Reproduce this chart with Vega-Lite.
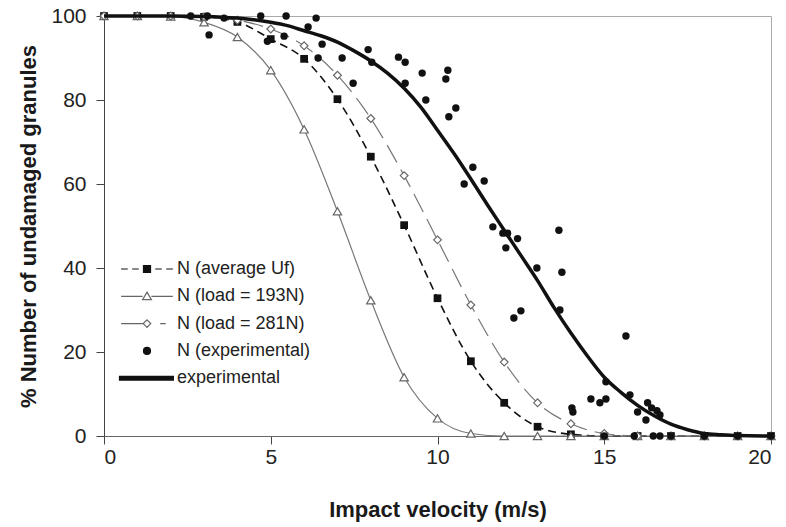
{
  "$schema": "https://vega.github.io/schema/vega-lite/v6.json",
  "autosize": {"type": "none"},
  "width": 667,
  "height": 420,
  "padding": {"left": 104, "top": 16, "right": 15, "bottom": 91},
  "background": "white",
  "config": {
    "font": "Liberation Sans",
    "view": {"stroke": "#aaaaaa", "strokeWidth": 1},
    "axis": {
      "grid": false,
      "labelFont": "Liberation Sans",
      "labelFontSize": 21,
      "labelColor": "#222222",
      "titleFont": "Liberation Sans",
      "titleFontSize": 22,
      "titleFontWeight": "bold",
      "titleColor": "#1a1a1a",
      "domainColor": "#444444",
      "tickColor": "#444444",
      "tickSize": 8
    }
  },
  "data": {"values": [
    {"series": "N (average Uf)", "velocity": 0, "pct": 100},
    {"series": "N (average Uf)", "velocity": 1, "pct": 100},
    {"series": "N (average Uf)", "velocity": 2, "pct": 100},
    {"series": "N (average Uf)", "velocity": 3, "pct": 99.8},
    {"series": "N (average Uf)", "velocity": 4, "pct": 98.6},
    {"series": "N (average Uf)", "velocity": 5, "pct": 94.5},
    {"series": "N (average Uf)", "velocity": 6, "pct": 89.8},
    {"series": "N (average Uf)", "velocity": 7, "pct": 80.2},
    {"series": "N (average Uf)", "velocity": 8, "pct": 66.5},
    {"series": "N (average Uf)", "velocity": 9, "pct": 50.2},
    {"series": "N (average Uf)", "velocity": 10, "pct": 32.8},
    {"series": "N (average Uf)", "velocity": 11, "pct": 17.8},
    {"series": "N (average Uf)", "velocity": 12, "pct": 7.9},
    {"series": "N (average Uf)", "velocity": 13, "pct": 2.2},
    {"series": "N (average Uf)", "velocity": 14, "pct": 0.4},
    {"series": "N (average Uf)", "velocity": 15, "pct": 0},
    {"series": "N (average Uf)", "velocity": 16, "pct": 0},
    {"series": "N (average Uf)", "velocity": 17, "pct": 0},
    {"series": "N (average Uf)", "velocity": 18, "pct": 0},
    {"series": "N (average Uf)", "velocity": 19, "pct": 0},
    {"series": "N (average Uf)", "velocity": 20, "pct": 0},
    {"series": "N (load = 193N)", "velocity": 0, "pct": 100},
    {"series": "N (load = 193N)", "velocity": 1, "pct": 100},
    {"series": "N (load = 193N)", "velocity": 2, "pct": 99.9},
    {"series": "N (load = 193N)", "velocity": 3, "pct": 98.5},
    {"series": "N (load = 193N)", "velocity": 4, "pct": 95},
    {"series": "N (load = 193N)", "velocity": 5, "pct": 87.1},
    {"series": "N (load = 193N)", "velocity": 6, "pct": 73},
    {"series": "N (load = 193N)", "velocity": 7, "pct": 53.5},
    {"series": "N (load = 193N)", "velocity": 8, "pct": 32.3},
    {"series": "N (load = 193N)", "velocity": 9, "pct": 14},
    {"series": "N (load = 193N)", "velocity": 10, "pct": 4.2},
    {"series": "N (load = 193N)", "velocity": 11, "pct": 0.6},
    {"series": "N (load = 193N)", "velocity": 12, "pct": 0},
    {"series": "N (load = 193N)", "velocity": 13, "pct": 0},
    {"series": "N (load = 193N)", "velocity": 14, "pct": 0},
    {"series": "N (load = 193N)", "velocity": 15, "pct": 0},
    {"series": "N (load = 193N)", "velocity": 16, "pct": 0},
    {"series": "N (load = 193N)", "velocity": 17, "pct": 0},
    {"series": "N (load = 193N)", "velocity": 18, "pct": 0},
    {"series": "N (load = 193N)", "velocity": 19, "pct": 0},
    {"series": "N (load = 193N)", "velocity": 20, "pct": 0},
    {"series": "N (load = 281N)", "velocity": 0, "pct": 100},
    {"series": "N (load = 281N)", "velocity": 1, "pct": 100},
    {"series": "N (load = 281N)", "velocity": 2, "pct": 100},
    {"series": "N (load = 281N)", "velocity": 3, "pct": 99.8},
    {"series": "N (load = 281N)", "velocity": 4, "pct": 99},
    {"series": "N (load = 281N)", "velocity": 5, "pct": 96.9},
    {"series": "N (load = 281N)", "velocity": 6, "pct": 92.9},
    {"series": "N (load = 281N)", "velocity": 7, "pct": 85.9},
    {"series": "N (load = 281N)", "velocity": 8, "pct": 75.6},
    {"series": "N (load = 281N)", "velocity": 9, "pct": 62},
    {"series": "N (load = 281N)", "velocity": 10, "pct": 46.7},
    {"series": "N (load = 281N)", "velocity": 11, "pct": 31.2},
    {"series": "N (load = 281N)", "velocity": 12, "pct": 17.6},
    {"series": "N (load = 281N)", "velocity": 13, "pct": 7.9},
    {"series": "N (load = 281N)", "velocity": 14, "pct": 2.9},
    {"series": "N (load = 281N)", "velocity": 15, "pct": 0.6},
    {"series": "N (load = 281N)", "velocity": 16, "pct": 0},
    {"series": "N (load = 281N)", "velocity": 17, "pct": 0},
    {"series": "N (load = 281N)", "velocity": 18, "pct": 0},
    {"series": "N (load = 281N)", "velocity": 19, "pct": 0},
    {"series": "N (load = 281N)", "velocity": 20, "pct": 0},
    {"series": "N (experimental)", "velocity": 2.6, "pct": 100},
    {"series": "N (experimental)", "velocity": 3.1, "pct": 100},
    {"series": "N (experimental)", "velocity": 3.15, "pct": 95.5},
    {"series": "N (experimental)", "velocity": 3.6, "pct": 99.5},
    {"series": "N (experimental)", "velocity": 4.7, "pct": 100},
    {"series": "N (experimental)", "velocity": 4.9, "pct": 94},
    {"series": "N (experimental)", "velocity": 5.4, "pct": 95.2},
    {"series": "N (experimental)", "velocity": 5.46, "pct": 100},
    {"series": "N (experimental)", "velocity": 6.12, "pct": 97.4},
    {"series": "N (experimental)", "velocity": 6.36, "pct": 99.5},
    {"series": "N (experimental)", "velocity": 6.54, "pct": 93.3},
    {"series": "N (experimental)", "velocity": 6.42, "pct": 90},
    {"series": "N (experimental)", "velocity": 7.14, "pct": 90},
    {"series": "N (experimental)", "velocity": 7.47, "pct": 84},
    {"series": "N (experimental)", "velocity": 7.92, "pct": 92},
    {"series": "N (experimental)", "velocity": 8.03, "pct": 89},
    {"series": "N (experimental)", "velocity": 8.83, "pct": 90.2},
    {"series": "N (experimental)", "velocity": 9.03, "pct": 89},
    {"series": "N (experimental)", "velocity": 9.03, "pct": 84},
    {"series": "N (experimental)", "velocity": 9.54, "pct": 86.4},
    {"series": "N (experimental)", "velocity": 10.31, "pct": 87.1},
    {"series": "N (experimental)", "velocity": 10.25, "pct": 85},
    {"series": "N (experimental)", "velocity": 9.65, "pct": 80},
    {"series": "N (experimental)", "velocity": 10.55, "pct": 78.1},
    {"series": "N (experimental)", "velocity": 10.34, "pct": 76},
    {"series": "N (experimental)", "velocity": 11.06, "pct": 64},
    {"series": "N (experimental)", "velocity": 10.8, "pct": 60},
    {"series": "N (experimental)", "velocity": 11.4, "pct": 60.7},
    {"series": "N (experimental)", "velocity": 11.66, "pct": 49.8},
    {"series": "N (experimental)", "velocity": 11.96, "pct": 48.3},
    {"series": "N (experimental)", "velocity": 12.1, "pct": 48.3},
    {"series": "N (experimental)", "velocity": 12.4, "pct": 47},
    {"series": "N (experimental)", "velocity": 12.05, "pct": 44.8},
    {"series": "N (experimental)", "velocity": 13.64, "pct": 49},
    {"series": "N (experimental)", "velocity": 12.98, "pct": 40},
    {"series": "N (experimental)", "velocity": 13.73, "pct": 39},
    {"series": "N (experimental)", "velocity": 12.29, "pct": 28.1},
    {"series": "N (experimental)", "velocity": 12.5, "pct": 29.8},
    {"series": "N (experimental)", "velocity": 13.67, "pct": 30},
    {"series": "N (experimental)", "velocity": 15.65, "pct": 23.8},
    {"series": "N (experimental)", "velocity": 14.6, "pct": 8.8},
    {"series": "N (experimental)", "velocity": 14.87, "pct": 7.9},
    {"series": "N (experimental)", "velocity": 15.05, "pct": 8.8},
    {"series": "N (experimental)", "velocity": 14.03, "pct": 6.7},
    {"series": "N (experimental)", "velocity": 14.06, "pct": 5.7},
    {"series": "N (experimental)", "velocity": 15.05, "pct": 12.9},
    {"series": "N (experimental)", "velocity": 15.77, "pct": 9.8},
    {"series": "N (experimental)", "velocity": 16.3, "pct": 7.9},
    {"series": "N (experimental)", "velocity": 16.0, "pct": 5.7},
    {"series": "N (experimental)", "velocity": 16.25, "pct": 3.8},
    {"series": "N (experimental)", "velocity": 16.58, "pct": 6},
    {"series": "N (experimental)", "velocity": 16.67, "pct": 5},
    {"series": "N (experimental)", "velocity": 16.42, "pct": 6.7},
    {"series": "N (experimental)", "velocity": 15, "pct": 0},
    {"series": "N (experimental)", "velocity": 15.9, "pct": 0},
    {"series": "N (experimental)", "velocity": 16.47, "pct": 0},
    {"series": "N (experimental)", "velocity": 16.67, "pct": 0},
    {"series": "N (experimental)", "velocity": 17, "pct": 0},
    {"series": "N (experimental)", "velocity": 18, "pct": 0},
    {"series": "N (experimental)", "velocity": 19, "pct": 0},
    {"series": "N (experimental)", "velocity": 20, "pct": 0},
    {"series": "experimental", "velocity": 0, "pct": 100},
    {"series": "experimental", "velocity": 2, "pct": 100},
    {"series": "experimental", "velocity": 3, "pct": 99.9},
    {"series": "experimental", "velocity": 4, "pct": 99.5},
    {"series": "experimental", "velocity": 5, "pct": 98.5},
    {"series": "experimental", "velocity": 5.5, "pct": 97.7},
    {"series": "experimental", "velocity": 6, "pct": 96.5},
    {"series": "experimental", "velocity": 6.5, "pct": 95.3},
    {"series": "experimental", "velocity": 7, "pct": 93.8},
    {"series": "experimental", "velocity": 7.5, "pct": 91.7},
    {"series": "experimental", "velocity": 8, "pct": 89.3},
    {"series": "experimental", "velocity": 8.5, "pct": 86.4},
    {"series": "experimental", "velocity": 9, "pct": 82.8},
    {"series": "experimental", "velocity": 9.5, "pct": 78.3},
    {"series": "experimental", "velocity": 10, "pct": 72.8},
    {"series": "experimental", "velocity": 10.5, "pct": 67.2},
    {"series": "experimental", "velocity": 11, "pct": 61.2},
    {"series": "experimental", "velocity": 11.5, "pct": 55},
    {"series": "experimental", "velocity": 12, "pct": 49},
    {"series": "experimental", "velocity": 12.5, "pct": 43},
    {"series": "experimental", "velocity": 13, "pct": 37},
    {"series": "experimental", "velocity": 13.5, "pct": 30.5},
    {"series": "experimental", "velocity": 14, "pct": 24.5},
    {"series": "experimental", "velocity": 14.5, "pct": 19},
    {"series": "experimental", "velocity": 15, "pct": 14},
    {"series": "experimental", "velocity": 15.5, "pct": 10.4},
    {"series": "experimental", "velocity": 16, "pct": 7.3},
    {"series": "experimental", "velocity": 16.5, "pct": 4.8},
    {"series": "experimental", "velocity": 17, "pct": 2.8},
    {"series": "experimental", "velocity": 17.5, "pct": 1.5},
    {"series": "experimental", "velocity": 18, "pct": 0.6},
    {"series": "experimental", "velocity": 18.5, "pct": 0.3},
    {"series": "experimental", "velocity": 19, "pct": 0.1},
    {"series": "experimental", "velocity": 20, "pct": 0}
  ]},
  "encoding": {
    "x": {"field": "velocity", "type": "quantitative",
      "scale": {"domain": [0, 20], "nice": false, "zero": false},
      "axis": {"values": [0, 5, 10, 15, 20], "title": "Impact velocity (m/s)", "labelPadding": 2, "titlePadding": 32, "domainColor": "#666666"}},
    "y": {"field": "pct", "type": "quantitative",
      "scale": {"domain": [0, 100], "nice": false},
      "axis": {"values": [0, 20, 40, 60, 80, 100], "title": "% Number of undamaged granules", "labelPadding": 10, "titlePadding": 10}}
  },
  "layer": [
    {"transform": [{"filter": {"field": "series", "equal": "N (average Uf)"}}],
     "mark": {"type": "line", "interpolate": "monotone", "color": "#111111", "strokeWidth": 1.6, "strokeDash": [8, 5]}},
    {"transform": [{"filter": {"field": "series", "equal": "N (average Uf)"}}],
     "mark": {"type": "point", "shape": "square", "filled": true, "color": "#111111", "size": 60, "opacity": 1}},
    {"transform": [{"filter": {"field": "series", "equal": "N (load = 193N)"}}],
     "mark": {"type": "line", "interpolate": "monotone", "color": "#777777", "strokeWidth": 1.2}},
    {"transform": [{"filter": {"field": "series", "equal": "N (load = 193N)"}}],
     "mark": {"type": "point", "shape": "triangle-up", "fill": "white", "stroke": "#666666", "strokeWidth": 1.2, "size": 70, "opacity": 1}},
    {"transform": [{"filter": {"field": "series", "equal": "N (load = 281N)"}}],
     "mark": {"type": "line", "interpolate": "monotone", "color": "#777777", "strokeWidth": 1.2, "strokeDash": [20, 8]}},
    {"transform": [{"filter": {"field": "series", "equal": "N (load = 281N)"}}],
     "mark": {"type": "point", "shape": "diamond", "fill": "white", "stroke": "#666666", "strokeWidth": 1.2, "size": 60, "opacity": 1}},
    {"transform": [{"filter": {"field": "series", "equal": "N (experimental)"}}],
     "mark": {"type": "point", "shape": "circle", "filled": true, "color": "#111111", "size": 55, "opacity": 1}},
    {"transform": [{"filter": {"field": "series", "equal": "experimental"}}],
     "mark": {"type": "line", "interpolate": "monotone", "color": "#111111", "strokeWidth": 3.5}},
    {"transform": [{"filter": "datum.pct > 1000"}],
     "mark": {"type": "point", "filled": true},
     "encoding": {
       "fill": {"field": "series", "type": "nominal",
         "scale": {"domain": ["N (average Uf)", "N (load = 193N)", "N (load = 281N)", "N (experimental)", "experimental"],
                   "range": ["#111111", "white", "white", "#111111", "#111111"]}},
       "stroke": {"field": "series", "type": "nominal",
         "scale": {"domain": ["N (average Uf)", "N (load = 193N)", "N (load = 281N)", "N (experimental)", "experimental"],
                   "range": ["#111111", "#666666", "#666666", "#111111", "#111111"]}},
       "shape": {"field": "series", "type": "nominal",
         "scale": {"domain": ["N (average Uf)", "N (load = 193N)", "N (load = 281N)", "N (experimental)", "experimental"],
                   "range": [
                     "M-2.35,0H-1.75M-1.35,0H-0.75M-0.35,0H0.35M0.75,0H1.35M1.75,0H2.35M-0.32,-0.32H0.32V0.32H-0.32Z",
                     "M-2.35,0H-0.4M0.4,0H2.35M0,-0.38L0.4,0.3H-0.4Z",
                     "M-2.35,0H-0.36M1.2,0H1.7M0,-0.34L0.34,0L0,0.34L-0.34,0Z",
                     "M0.32,0A0.32,0.32,0,1,1,-0.32,0A0.32,0.32,0,1,1,0.32,0Z",
                     "M-2.5,-0.17H2.4V0.17H-2.5Z"
                   ]},
         "legend": {
           "title": null,
           "orient": "none",
           "legendX": 31,
           "legendY": 241,
           "padding": 0,
           "symbolSize": 484,
           "symbolStrokeWidth": 1.2,
           "symbolOpacity": 1,
           "rowPadding": 6.3,
           "labelOffset": 18,
           "labelFont": "Liberation Sans",
           "labelFontSize": 18,
           "labelColor": "#222222",
           "labelLimit": 0
         }}
     }}
  ]
}
